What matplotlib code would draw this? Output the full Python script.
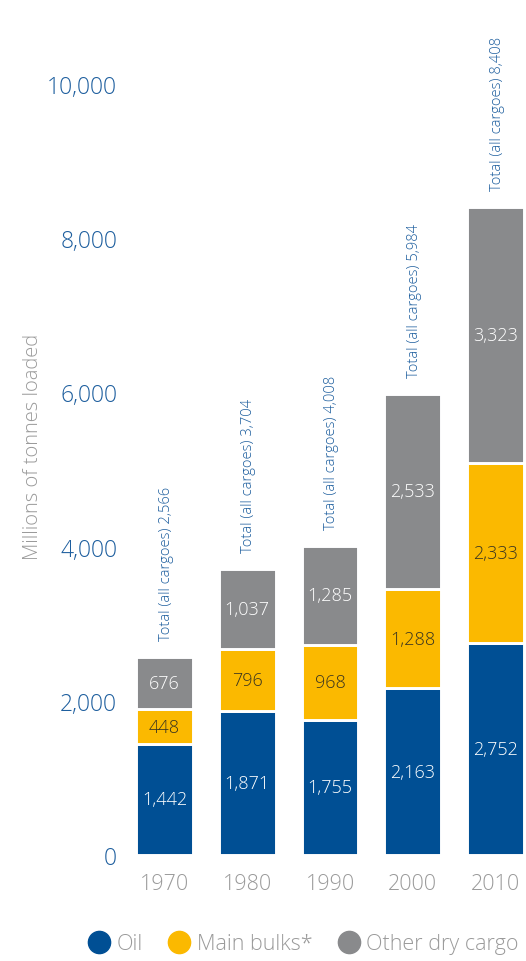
import numpy as np
import matplotlib.pyplot as plt
from matplotlib.lines import Line2D

plt.rcParams['font.family'] = ['Open Sans', 'DejaVu Sans']
plt.rcParams['font.weight'] = 'light'

years = ['1970', '1980', '1990', '2000', '2010']
oil = [1442, 1871, 1755, 2163, 2752]
main_bulks = [448, 796, 968, 1288, 2333]
other_dry = [676, 1037, 1285, 2533, 3323]
totals = [2566, 3704, 4008, 5984, 8408]
series_names = ['Oil', 'Main bulks*', 'Other dry cargo']
y_ticks = [0, 2000, 4000, 6000, 8000, 10000]

blue = '#004f94'
yellow = '#fbb900'
gray = '#898a8c'
tick_blue = '#1d5e9e'
light_gray = '#9a9a9a'

fig = plt.figure(figsize=(5.26, 9.62), dpi=100)
ax = fig.add_axes([120 / 526, 106 / 962, 406 / 526, 856 / 962])

x = np.arange(len(years))
width = 0.687
bottom = np.zeros(len(years))
for vals, col, txtcol in [(oil, blue, 'white'), (main_bulks, yellow, '#3a3520'),
                          (other_dry, gray, 'white')]:
    ax.bar(x, vals, width, bottom=bottom, color=col, edgecolor='white', linewidth=2.1)
    for xi, b, v in zip(x, bottom, vals):
        ax.text(xi, b + v / 2, f'{v:,}', ha='center', va='center',
                color=txtcol, fontsize=13)
    bottom += np.array(vals)

# totals written vertically above each bar
for xi, t in zip(x, totals):
    ax.text(xi + 0.02, t + 220, f'Total (all cargoes) {t:,}', rotation=90,
            ha='center', va='bottom', color=tick_blue, fontsize=10.6)

ax.set_xlim(-0.536, 4.367)
ax.set_ylim(0, 11100)
ax.set_xticks(x)
ax.set_xticklabels(years, color=light_gray, fontsize=15.5)
ax.set_yticks(y_ticks)
ax.set_yticklabels([f'{v:,}' for v in y_ticks], color=tick_blue, fontsize=16.5)
ax.tick_params(length=0, pad=2)
ax.tick_params(axis='x', pad=13)
for s in ax.spines.values():
    s.set_visible(False)

fig.text(33 / 526, 1 - 447 / 962, 'Millions of tonnes loaded', rotation=90,
         ha='center', va='center', color=light_gray, fontsize=14.5)

handles = [Line2D([], [], marker='o', linestyle='', markersize=16, color=c)
           for c in [blue, yellow, gray]]
fig.legend(handles, series_names, ncol=3, loc='center',
           bbox_to_anchor=(0.575, 1 - 945 / 962), frameon=False,
           handletextpad=0.2, columnspacing=1.1, handlelength=1.2,
           labelcolor=light_gray, fontsize=15.5)

fig.savefig('out.png', dpi=100)
